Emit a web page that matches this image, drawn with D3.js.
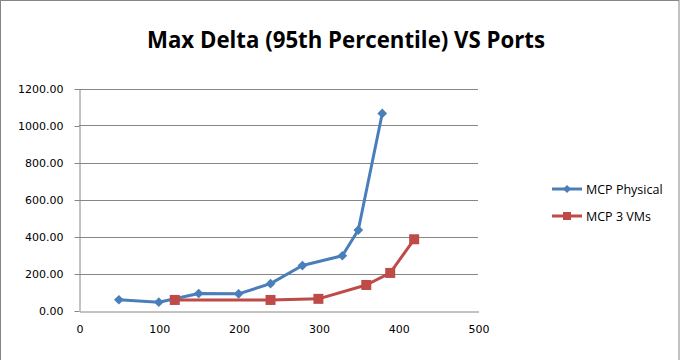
<!DOCTYPE html>
<html><head><meta charset="utf-8">
<script src="https://cdn.jsdelivr.net/npm/d3@7/dist/d3.min.js"></script>
<style>body{margin:0;background:#fff}svg{display:block}</style>
</head><body>
<svg id="c" width="680" height="360"></svg>
<script>
const title = "Max Delta (95th Percentile) VS Ports";
const physicalPorts = [50, 100, 150, 200, 240, 280, 330, 350, 380];
const physicalValues = [58, 45, 92, 90, 145, 243, 296, 435, 1065];
const vmPorts = [120, 240, 300, 360, 390, 420];
const vmValues = [57, 57, 63, 138, 203, 385];
const seriesNames = ["MCP Physical", "MCP 3 VMs"];
const xTicks = [0, 100, 200, 300, 400, 500];
const yTicks = [0, 200, 400, 600, 800, 1000, 1200];

const svg = d3.select("#c");
const blue = "#4a7ebb", red = "#be4b48", grid = "#868686";
svg.append("rect").attr("x",0.5).attr("y",0.5).attr("width",678.5).attr("height",370)
  .attr("fill","none").attr("stroke","#868686");

const x = d3.scaleLinear().domain([0,500]).range([79,478]);
const y = d3.scaleLinear().domain([0,1200]).range([310.5,88.5]);

svg.append("text").attr("x",346).attr("y",48).attr("text-anchor","middle")
  .attr("font-family","Open Sans, sans-serif").attr("font-weight","bold").attr("font-size",24)
  .attr("textLength",398).attr("lengthAdjust","spacingAndGlyphs").text(title);

// gridlines
svg.append("g").selectAll("line").data(yTicks.filter(d=>d>0)).join("line")
  .attr("x1",x(0)).attr("x2",x(500)).attr("y1",d=>Math.round(y(d))+0.5).attr("y2",d=>Math.round(y(d))+0.5)
  .attr("stroke",grid).attr("stroke-width",1);

const yAxis = svg.append("g").attr("transform",`translate(${x(0)+0.5},0.5)`)
  .call(d3.axisLeft(y).tickValues(yTicks).tickFormat(d3.format(".2f")).tickSize(5).tickSizeOuter(0));
yAxis.select(".domain").attr("stroke",grid);
yAxis.selectAll(".tick line").attr("stroke",grid);
yAxis.selectAll("text").attr("font-family","DejaVu Sans").attr("font-size",11).attr("fill","#000").attr("x",-16);

const xAxis = svg.append("g").attr("transform",`translate(0.5,${Math.round(y(0))+0.5})`)
  .call(d3.axisBottom(x).tickValues(xTicks).tickFormat(d3.format("d")).tickSize(0).tickSizeOuter(0));
xAxis.select(".domain").attr("stroke",grid);
xAxis.selectAll("text").attr("font-family","DejaVu Sans").attr("font-size",11).attr("fill","#000").attr("dy","1.2em").attr("y",8);

const line = d3.line().x(d=>x(d[0])).y(d=>y(d[1]));
const phys = physicalPorts.map((p,i)=>[p,physicalValues[i]]);
const vms = vmPorts.map((p,i)=>[p,vmValues[i]]);

svg.append("path").datum(phys).attr("d",line).attr("fill","none").attr("stroke",blue).attr("stroke-width",3).attr("stroke-linejoin","round");
svg.append("path").datum(vms).attr("d",line).attr("fill","none").attr("stroke",red).attr("stroke-width",3).attr("stroke-linejoin","round");

const diamond = d3.symbol().type(d3.symbolDiamond2).size(60);
svg.append("g").selectAll("path").data(phys).join("path")
  .attr("transform",d=>`translate(${x(d[0])},${y(d[1])})`).attr("d",diamond).attr("fill",blue);
svg.append("g").selectAll("rect").data(vms).join("rect")
  .attr("x",d=>x(d[0])-5).attr("y",d=>y(d[1])-5).attr("width",10).attr("height",10).attr("fill",red);

// legend
const leg = svg.append("g");
const rows = [{n:seriesNames[0],c:blue,t:"d",y:189},{n:seriesNames[1],c:red,t:"s",y:216}];
rows.forEach(r=>{
  leg.append("line").attr("x1",552).attr("x2",582).attr("y1",r.y).attr("y2",r.y).attr("stroke",r.c).attr("stroke-width",3);
  if(r.t==="d") leg.append("path").attr("transform",`translate(567,${r.y})`).attr("d",d3.symbol().type(d3.symbolDiamond2).size(40)).attr("fill",r.c);
  else leg.append("rect").attr("x",563).attr("y",r.y-4).attr("width",8).attr("height",8).attr("fill",r.c);
  leg.append("text").attr("x",586).attr("y",r.y+5).attr("font-family","Open Sans, sans-serif").attr("font-size",12.5).attr("fill","#000").text(r.n);
});
</script>
</body></html>
